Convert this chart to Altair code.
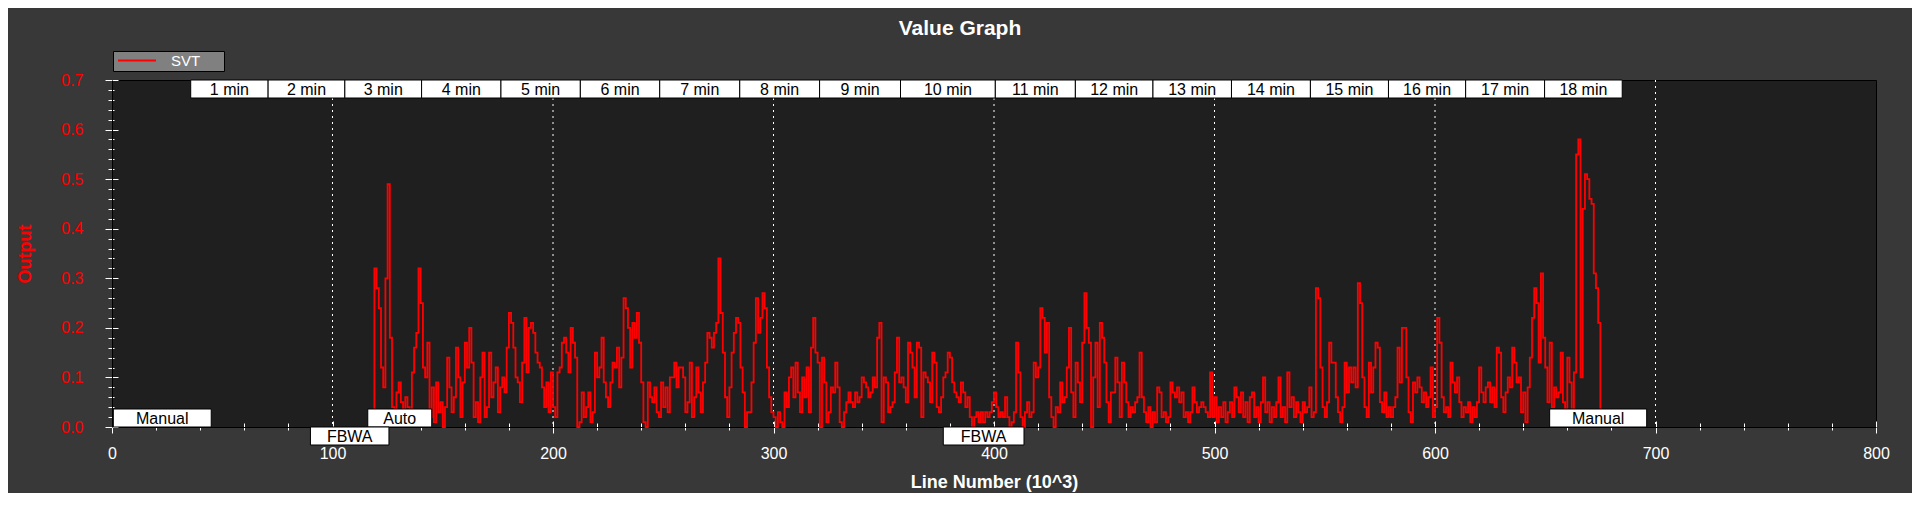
import altair as alt
import pandas as pd

# ---------------- data ----------------
first_line = 118  # first sample (x10^3 lines) of the SVT series
svt_values = [
    0.00, 0.32, 0.28, 0.24, 0.12, 0.08, 0.30, 0.49, 0.18, 0.04,
    0.03, 0.07, 0.09, 0.05, 0.02, 0.06, 0.04, 0.02, 0.11, 0.16,
    0.19, 0.32, 0.25, 0.12, 0.10, 0.17, 0.02, 0.08, 0.01, 0.09,
    0.03, 0.05, 0.00, 0.04, 0.14, 0.08, 0.03, 0.06, 0.16, 0.10,
    0.02, 0.09, 0.17, 0.12, 0.20, 0.13, 0.02, 0.05, 0.01, 0.10,
    0.15, 0.02, 0.04, 0.15, 0.06, 0.09, 0.12, 0.03, 0.08, 0.10,
    0.07, 0.16, 0.23, 0.21, 0.16, 0.10, 0.09, 0.05, 0.13, 0.22,
    0.11, 0.20, 0.21, 0.19, 0.15, 0.13, 0.12, 0.08, 0.04, 0.09,
    0.03, 0.11, 0.04, 0.02, 0.11, 0.12, 0.17, 0.18, 0.15, 0.11,
    0.20, 0.17, 0.14, 0.00, 0.01, 0.07, 0.02, 0.04, 0.07, 0.01,
    0.03, 0.15, 0.10, 0.12, 0.18, 0.09, 0.06, 0.04, 0.09, 0.13,
    0.12, 0.16, 0.08, 0.14, 0.26, 0.24, 0.20, 0.12, 0.21, 0.18,
    0.23, 0.17, 0.09, 0.01, 0.00, 0.09, 0.06, 0.05, 0.08, 0.03,
    0.02, 0.09, 0.04, 0.08, 0.03, 0.10, 0.10, 0.13, 0.08, 0.12,
    0.12, 0.10, 0.03, 0.05, 0.13, 0.02, 0.06, 0.12, 0.07, 0.03,
    0.09, 0.13, 0.19, 0.18, 0.16, 0.19, 0.21, 0.34, 0.23, 0.15,
    0.06, 0.02, 0.08, 0.15, 0.19, 0.22, 0.21, 0.12, 0.07, 0.00,
    0.03, 0.03, 0.09, 0.17, 0.26, 0.19, 0.22, 0.27, 0.24, 0.12,
    0.06, 0.03, 0.02, 0.00, 0.03, 0.01, 0.00, 0.07, 0.04, 0.10,
    0.12, 0.06, 0.13, 0.07, 0.03, 0.10, 0.06, 0.12, 0.03, 0.16,
    0.22, 0.15, 0.13, 0.00, 0.14, 0.09, 0.01, 0.03, 0.08, 0.07,
    0.13, 0.08, 0.01, 0.00, 0.03, 0.05, 0.07, 0.05, 0.04, 0.07,
    0.05, 0.06, 0.10, 0.09, 0.08, 0.06, 0.07, 0.10, 0.08, 0.18,
    0.21, 0.01, 0.10, 0.09, 0.03, 0.04, 0.05, 0.11, 0.18, 0.09,
    0.10, 0.08, 0.05, 0.17, 0.15, 0.12, 0.06, 0.17, 0.16, 0.02,
    0.11, 0.10, 0.09, 0.05, 0.15, 0.13, 0.04, 0.03, 0.06, 0.10,
    0.11, 0.15, 0.14, 0.09, 0.07, 0.06, 0.05, 0.09, 0.07, 0.04,
    0.06, 0.02, 0.00, 0.02, 0.03, 0.01, 0.03, 0.01, 0.03, 0.02,
    0.03, 0.05, 0.07, 0.04, 0.02, 0.03, 0.02, 0.06, 0.02, 0.00,
    0.01, 0.03, 0.17, 0.11, 0.02, 0.00, 0.03, 0.05, 0.02, 0.03,
    0.13, 0.10, 0.12, 0.24, 0.22, 0.15, 0.21, 0.06, 0.02, 0.00,
    0.04, 0.03, 0.09, 0.05, 0.06, 0.12, 0.20, 0.07, 0.02, 0.13,
    0.09, 0.05, 0.17, 0.27, 0.20, 0.17, 0.00, 0.10, 0.17, 0.04,
    0.21, 0.18, 0.13, 0.05, 0.01, 0.07, 0.07, 0.14, 0.09, 0.02,
    0.13, 0.09, 0.05, 0.02, 0.04, 0.03, 0.05, 0.06, 0.15, 0.06,
    0.03, 0.01, 0.04, 0.00, 0.03, 0.01, 0.08, 0.07, 0.02, 0.03,
    0.01, 0.02, 0.09, 0.07, 0.06, 0.08, 0.05, 0.07, 0.02, 0.03,
    0.01, 0.03, 0.08, 0.05, 0.03, 0.04, 0.05, 0.04, 0.03, 0.02,
    0.11, 0.02, 0.06, 0.01, 0.04, 0.02, 0.05, 0.01, 0.03, 0.05,
    0.02, 0.08, 0.06, 0.03, 0.07, 0.02, 0.05, 0.01, 0.06, 0.07,
    0.02, 0.04, 0.01, 0.05, 0.10, 0.03, 0.05, 0.01, 0.04, 0.02,
    0.05, 0.10, 0.02, 0.04, 0.01, 0.11, 0.04, 0.06, 0.02, 0.05,
    0.03, 0.01, 0.05, 0.03, 0.04, 0.08, 0.02, 0.03, 0.28, 0.26,
    0.12, 0.04, 0.02, 0.05, 0.17, 0.13, 0.13, 0.06, 0.03, 0.01,
    0.04, 0.13, 0.07, 0.12, 0.09, 0.12, 0.08, 0.29, 0.25, 0.10,
    0.04, 0.02, 0.13, 0.07, 0.12, 0.17, 0.16, 0.05, 0.03, 0.07,
    0.02, 0.04, 0.02, 0.04, 0.06, 0.16, 0.09, 0.20, 0.20, 0.10,
    0.03, 0.01, 0.09, 0.07, 0.10, 0.08, 0.05, 0.07, 0.04, 0.06,
    0.12, 0.02, 0.04, 0.22, 0.17, 0.06, 0.03, 0.04, 0.02, 0.13,
    0.09, 0.07, 0.10, 0.05, 0.02, 0.04, 0.03, 0.05, 0.01, 0.04,
    0.02, 0.05, 0.12, 0.07, 0.05, 0.08, 0.09, 0.05, 0.08, 0.04,
    0.16, 0.15, 0.06, 0.03, 0.07, 0.10, 0.08, 0.16, 0.13, 0.09,
    0.10, 0.03, 0.07, 0.01, 0.08, 0.14, 0.22, 0.28, 0.25, 0.13,
    0.31, 0.18, 0.12, 0.05, 0.17, 0.04, 0.08, 0.06, 0.07, 0.15,
    0.05, 0.03, 0.14, 0.09, 0.03, 0.11, 0.55, 0.58, 0.10, 0.44,
    0.51, 0.50, 0.46, 0.45, 0.31, 0.28, 0.21, 0.00,
]
line_numbers = list(range(first_line, first_line + len(svt_values)))

minute_labels = ["1 min", "2 min", "3 min", "4 min", "5 min", "6 min",
                 "7 min", "8 min", "9 min", "10 min", "11 min", "12 min",
                 "13 min", "14 min", "15 min", "16 min", "17 min", "18 min"]
minute_edges = [35.7, 70.8, 105.6, 140.4, 176.4, 212.4, 248.4, 284.7, 320.9,
                357.6, 400.6, 436.9, 472.1, 507.7, 543.5, 578.9, 613.9,
                649.7, 684.9]

mode_names = ["Manual", "FBWA", "Auto", "FBWA", "Manual"]
mode_start = [0.6, 90.0, 116.0, 377.0, 652.0]
mode_end = [45.0, 125.6, 145.0, 413.6, 696.0]
mode_row = [0, 1, 0, 1, 0]

grid_lines = [100, 200, 300, 400, 500, 600, 700]
x_major = [0, 100, 200, 300, 400, 500, 600, 700, 800]
x_minor = [20, 40, 60, 80, 120, 140, 160, 180, 220, 240, 260, 280, 320, 340,
           360, 380, 420, 440, 460, 480, 520, 540, 560, 580, 620, 640, 660,
           680, 720, 740, 760, 780]
y_major = [0.0, 0.1, 0.2, 0.3, 0.4, 0.5, 0.6, 0.7]
y_minor = [0.02, 0.04, 0.06, 0.08, 0.12, 0.14, 0.16, 0.18, 0.22, 0.24, 0.26,
           0.28, 0.32, 0.34, 0.36, 0.38, 0.42, 0.44, 0.46, 0.48, 0.52, 0.54,
           0.56, 0.58, 0.62, 0.64, 0.66, 0.68]

# ---------------- tables ----------------
line_df = pd.DataFrame({"line": line_numbers, "value": svt_values, "series": "SVT"})
grid_df = pd.DataFrame({"g": grid_lines})
corner_df = pd.DataFrame({"line": [x_major[0], x_major[-1]],
                          "value": [y_major[0], y_major[-1]]})
minute_df = pd.DataFrame({"label": minute_labels,
                          "start": minute_edges[:-1],
                          "end": minute_edges[1:]})
minute_df["mid"] = (minute_df["start"] + minute_df["end"]) / 2
mode_df = pd.DataFrame({"mode": mode_names, "start": mode_start,
                        "end": mode_end, "row": mode_row})
mode_df["mid"] = (mode_df["start"] + mode_df["end"]) / 2

W, H = 1764, 347
FONT = "Liberation Sans"
BOX_H = 18
LEGEND_PAD = "\u00a0" * 5 + "\u200b"   # keeps the grey legend box wide

xscale = alt.Scale(domain=[0, 800], nice=False, zero=False)
yscale = alt.Scale(domain=[0, 0.7], nice=False, zero=False)


def tick_axis(orient, values, size, offset=0):
    return alt.Axis(orient=orient, values=values, tickSize=size, offset=offset,
                    tickColor="white", tickWidth=1, labels=False, domain=False,
                    grid=False, title=None)


grid = alt.Chart(grid_df).mark_rule(color="white", strokeDash=[2, 4], strokeWidth=1).encode(
    x=alt.X("g:Q", scale=xscale, axis=tick_axis("bottom", x_minor, 3))
)

inner_major = alt.Chart(corner_df).mark_point(opacity=0, size=1).encode(
    x=alt.X("line:Q", scale=xscale, axis=tick_axis("top", x_major, 6, -H)),
    y=alt.Y("value:Q", scale=yscale, axis=tick_axis("right", y_major, 6, -W)),
)
inner_minor = alt.Chart(corner_df).mark_point(opacity=0, size=1).encode(
    x=alt.X("line:Q", scale=xscale, axis=tick_axis("top", x_minor, 4, -H)),
    y=alt.Y("value:Q", scale=yscale, axis=tick_axis("left", y_minor, 4)),
)
inner_minor_y = alt.Chart(corner_df).mark_point(opacity=0, size=1).encode(
    y=alt.Y("value:Q", scale=yscale, axis=tick_axis("right", y_minor, 2, -W)),
)

line = alt.Chart(line_df).mark_line(interpolate="step-after", strokeWidth=1.8).encode(
    x=alt.X("line:Q", scale=xscale,
            axis=alt.Axis(orient="bottom", values=x_major, format="d",
                          tickSize=6, tickColor="white", labelColor="white",
                          labelFontSize=16, labelPadding=12, labelFlush=False,
                          domainColor="black", grid=False,
                          title="Line Number (10^3)", titleColor="white",
                          titleFontSize=18, titleFontWeight="bold",
                          titlePadding=12)),
    y=alt.Y("value:Q", scale=yscale,
            axis=alt.Axis(orient="left", values=y_major, format=".1f",
                          tickSize=7, tickColor="white", labelColor="red",
                          labelFontSize=16, labelPadding=22, labelFlush=False,
                          domainColor="black", grid=False, title="Output",
                          titleColor="red", titleFontSize=18,
                          titleFontWeight="bold", titlePadding=26)),
    color=alt.Color("series:N", scale=alt.Scale(domain=["SVT"], range=["#ff0000"]),
                    legend=alt.Legend(title=None, orient="none", legendX=1, legendY=-29,
                                      fillColor="#808080", strokeColor="black",
                                      padding=2, symbolType="stroke",
                                      symbolSize=1444, symbolStrokeWidth=1.8,
                                      symbolOffset=2, labelOffset=14,
                                      labelColor="white", labelFontSize=15,
                                      labelFont=FONT, clipHeight=15,
                                      labelExpr="datum.label + '" + LEGEND_PAD + "'")),
)

minute_boxes = alt.Chart(minute_df).mark_rect(fill="white", stroke="black", strokeWidth=1).encode(
    x=alt.X("start:Q", scale=xscale, axis=None), x2="end:Q",
    y=alt.value(0), y2=alt.value(BOX_H),
)
minute_text = alt.Chart(minute_df).mark_text(color="black", fontSize=16, font=FONT,
                                             baseline="middle", align="center").encode(
    x=alt.X("mid:Q", scale=xscale, axis=None), y=alt.value(BOX_H / 2 + 0.5), text="label:N",
)

mode_layers = []
for r, (top, bottom) in enumerate([(H - BOX_H, H), (H, H + BOX_H)]):
    sub = alt.Chart(mode_df).transform_filter(alt.datum.row == r)
    mode_layers.append(sub.mark_rect(fill="white", stroke="black", strokeWidth=1).encode(
        x=alt.X("start:Q", scale=xscale, axis=None), x2="end:Q",
        y=alt.value(top), y2=alt.value(bottom)))
    mode_layers.append(sub.mark_text(color="black", fontSize=16, font=FONT,
                                     baseline="middle", align="center").encode(
        x=alt.X("mid:Q", scale=xscale, axis=None),
        y=alt.value((top + bottom) / 2 + 0.5), text="mode:N"))

chart = alt.layer(
    grid, inner_major, inner_minor, inner_minor_y, line,
    minute_boxes, minute_text, *mode_layers
).resolve_axis(
    x="independent", y="independent"
).properties(
    width=W, height=H,
    title=alt.TitleParams("Value Graph", color="white", fontSize=21, fontWeight="bold",
                          font=FONT, anchor="middle", frame="group", dx=-34,
                          dy=24, offset=19, baseline="alphabetic"),
    padding={"left": 104, "top": 72, "right": 36, "bottom": 66},
    autosize=alt.AutoSizeParams(type="none"),
    background="#383838",
).configure_view(
    fill="#1f1f1f", stroke="black", strokeWidth=1
).configure_axis(
    labelFont=FONT, titleFont=FONT
)

chart.save("out.html", embed_options={"renderer": "svg", "actions": False})
